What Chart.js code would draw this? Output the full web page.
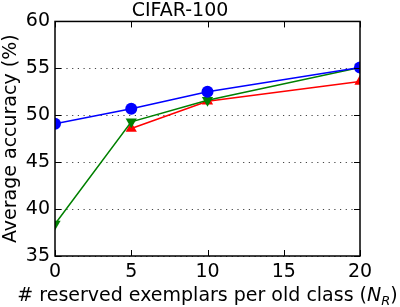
<!DOCTYPE html>
<html>
<head>
<meta charset="utf-8">
<script src="https://cdn.jsdelivr.net/npm/chart.js@4.4.0/dist/chart.umd.min.js"></script>
<style>
  html, body { margin: 0; padding: 0; background: #fff; }
  #wrap { width: 400px; height: 307px; }
</style>
</head>
<body>
<div id="wrap"><canvas id="accChart" width="400" height="307"></canvas></div>
<script>
// values
const exemplars = [0, 5, 10, 20];
const blueAcc = [49.1, 50.7, 52.5, 55.1];
const redAcc = [null, 48.6, 51.5, 53.6];
const greenAcc = [38.4, 49.3, 51.6, 55.1];
const xTicks = [0, 5, 10, 15, 20];
const yTicks = [35, 40, 45, 50, 55, 60];

const FONT = 'DejaVu Sans';

function toPoints(vals) {
    return exemplars.map((x, i) => ({ x: x, y: vals[i] })).filter(p => p.y !== null);
}

// frame, inward ticks and the x-axis title with N_R
const framePlugin = {
    id: 'frame',
    afterDraw(chart) {
        const ctx = chart.ctx;
        const a = chart.chartArea;
        const xs = chart.scales.x, ys = chart.scales.y;
        ctx.save();
        ctx.strokeStyle = '#000';
        ctx.lineWidth = 1;
        xTicks.forEach(v => {
            const px = Math.round(xs.getPixelForValue(v)) + 0.5;
            ctx.beginPath();
            ctx.moveTo(px, a.bottom); ctx.lineTo(px, a.bottom - 6);
            ctx.moveTo(px, a.top); ctx.lineTo(px, a.top + 6);
            ctx.stroke();
        });
        yTicks.forEach(v => {
            const py = Math.round(ys.getPixelForValue(v)) + 0.5;
            ctx.beginPath();
            ctx.moveTo(a.left, py); ctx.lineTo(a.left + 6, py);
            ctx.moveTo(a.right, py); ctx.lineTo(a.right - 6, py);
            ctx.stroke();
        });
        ctx.lineWidth = 1.5;
        ctx.strokeRect(a.left, a.top, a.right - a.left, a.bottom - a.top);

        // x title
        const main = '# reserved exemplars per old class (';
        ctx.fillStyle = '#000';
        ctx.textBaseline = 'alphabetic';
        ctx.textAlign = 'left';
        ctx.font = '19px "' + FONT + '"';
        const w1 = ctx.measureText(main).width;
        ctx.font = 'italic 19px "' + FONT + '"';
        const wN = ctx.measureText('N').width;
        ctx.font = 'italic 13px "' + FONT + '"';
        const wR = ctx.measureText('R').width;
        ctx.font = '19px "' + FONT + '"';
        const wP = ctx.measureText(')').width;
        const total = w1 + wN + wR + wP;
        let x = (a.left + a.right) / 2 - total / 2;
        const base = 301;
        ctx.fillText(main, x, base); x += w1;
        ctx.font = 'italic 19px "' + FONT + '"';
        ctx.fillText('N', x, base); x += wN;
        ctx.font = 'italic 13px "' + FONT + '"';
        ctx.fillText('R', x, base + 4); x += wR;
        ctx.font = '19px "' + FONT + '"';
        ctx.fillText(')', x, base);
        ctx.restore();
    }
};

window.onload = function() {
    const ctx = document.getElementById('accChart').getContext('2d');
    new Chart(ctx, {
        type: 'line',
        data: {
            datasets: [{
                label: 'blue',
                data: toPoints(blueAcc),
                borderColor: '#0000ff',
                backgroundColor: '#0000ff',
                borderWidth: 1.6,
                pointStyle: 'circle',
                pointRadius: 6,
                pointBorderWidth: 0
            }, {
                label: 'green',
                data: toPoints(greenAcc),
                borderColor: '#008000',
                backgroundColor: '#008000',
                borderWidth: 1.6,
                pointStyle: 'triangle',
                rotation: 180,
                pointRadius: 6.5,
                pointBorderWidth: 0
            }, {
                label: 'red',
                data: toPoints(redAcc),
                borderColor: '#ff0000',
                backgroundColor: '#ff0000',
                borderWidth: 1.6,
                pointStyle: 'triangle',
                pointRadius: 6.5,
                pointBorderWidth: 0
            }]
        },
        options: {
            responsive: false,
            animation: false,
            layout: { padding: { left: 0, right: 40, top: 0, bottom: 0 } },
            plugins: {
                legend: { display: false },
                tooltip: { enabled: false },
                title: {
                    display: true,
                    text: 'CIFAR-100',
                    color: '#000',
                    font: { family: FONT, size: 19, weight: 'normal', lineHeight: 1.05 },
                    padding: { top: 1, bottom: 0.5 }
                }
            },
            scales: {
                x: {
                    type: 'linear',
                    min: 0, max: 20,
                    afterBuildTicks: s => { s.ticks = xTicks.map(v => ({ value: v })); },
                    afterFit: s => { s.height = 51; },
                    grid: { display: false, drawTicks: false },
                    border: { display: false },
                    ticks: {
                        color: '#000',
                        padding: 5,
                        font: { family: FONT, size: 19 }
                    }
                },
                y: {
                    min: 35, max: 60,
                    afterBuildTicks: s => { s.ticks = yTicks.map(v => ({ value: v })); },
                    afterFit: s => { s.width = 55; },
                    grid: {
                        color: '#444',
                        lineWidth: 1,
                        drawTicks: false
                    },
                    border: { display: false, dash: [1.2, 4.5] },
                    ticks: {
                        color: '#000',
                        padding: 5,
                        font: { family: FONT, size: 19 }
                    },
                    title: {
                        display: true,
                        text: 'Average accuracy (%)',
                        color: '#000',
                        padding: { top: 0, bottom: 2 },
                        font: { family: FONT, size: 19 }
                    }
                }
            }
        },
        plugins: [framePlugin]
    });
};
</script>
</body>
</html>
